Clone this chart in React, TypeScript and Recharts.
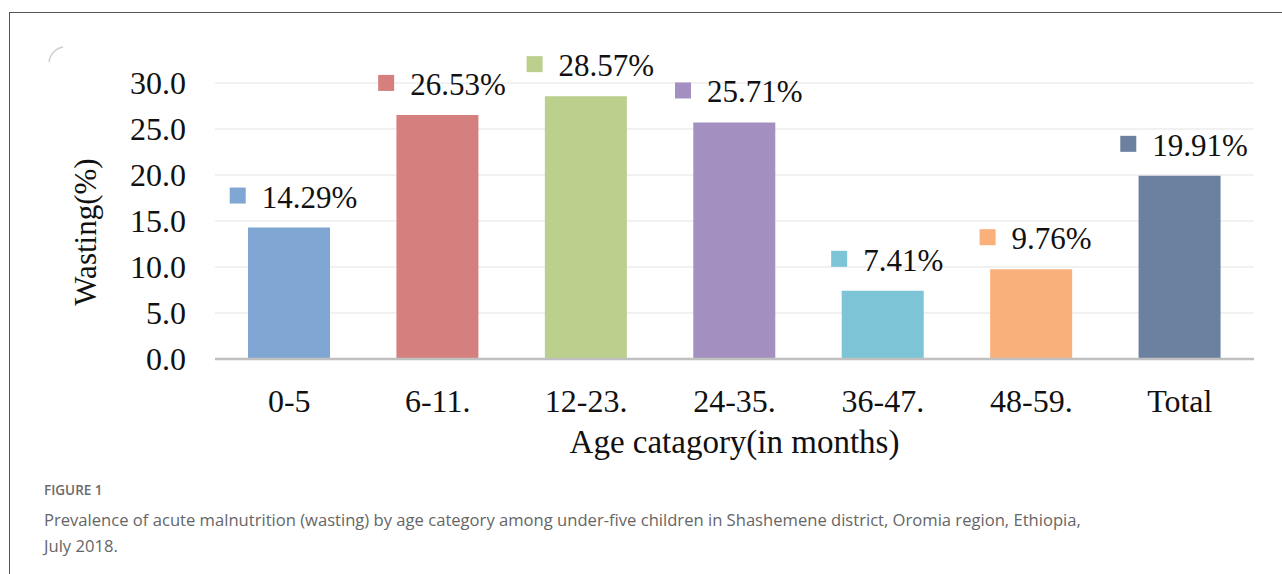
import React from "react";
import {
  BarChart,
  Bar,
  XAxis,
  YAxis,
  CartesianGrid,
  Cell,
  LabelList,
  Label,
} from "recharts";

const categories = ["0-5", "6-11.", "12-23.", "24-35.", "36-47.", "48-59.", "Total"];
const wasting = [14.29, 26.53, 28.57, 25.71, 7.41, 9.76, 19.91];
const barColors = ["#80a7d3", "#d57f7e", "#bad08c", "#a48fc1", "#7dc4d6", "#f9b07b", "#6c819f"];
const yTicks = [0, 5, 10, 15, 20, 25, 30];

const data = categories.map((name, i) => ({ name, value: wasting[i] }));

const serif = "'Liberation Serif', 'Times New Roman', serif";
const sans = "'Open Sans', 'Noto Sans', sans-serif";

// rough Times glyph widths, used to centre the square + text group
const textWidth = (s: string, size: number) =>
  s.split("").reduce((w, c) => w + (c === "." ? 0.25 : c === "%" ? 0.833 : 0.5), 0) * size;

const ValueLabel = (props: any) => {
  const { x, y, width, value, index } = props;
  const i = index ?? wasting.indexOf(value);
  const txt = `${Number(value).toFixed(2)}%`;
  const fs = 31;
  const total = 16 + 16 + textWidth(txt, fs);
  const cx = x + width / 2 + 4.5;
  const left = cx - total / 2;
  return (
    <g>
      <rect x={left} y={y - 40} width={16} height={16} fill={barColors[i]} />
      <text x={left + 32} y={y - 20} fontSize={fs} fontFamily={serif} fill="#111">
        {txt}
      </text>
    </g>
  );
};

const YTitle = (props: any) => {
  const vb = props.viewBox;
  const x = vb.x + 11;
  const y = vb.y + vb.height / 2 + 11;
  return (
    <text
      x={x}
      y={y}
      transform={`rotate(-90, ${x}, ${y})`}
      textAnchor="middle"
      fontSize={31}
      fontFamily={serif}
      fill="#111"
    >
      Wasting(%)
    </text>
  );
};

export default function App() {
  return (
    <div
      style={{
        position: "absolute",
        left: 0,
        top: 0,
        width: 1282,
        height: 574,
        background: "#fff",
        overflow: "hidden",
      }}
    >
      <div
        style={{
          position: "absolute",
          left: 9,
          top: 12,
          width: 1300,
          height: 600,
          borderTop: "1.5px solid #555",
          borderLeft: "1.5px solid #555",
        }}
      />
      <svg style={{ position: "absolute", left: 0, top: 0 }} width={80} height={80}>
        <path d="M49 62 A 17 17 0 0 1 63 47" stroke="#cfcfcf" strokeWidth={1.5} fill="none" />
      </svg>

      <div style={{ position: "absolute", left: 0, top: 0 }}>
        <BarChart
          width={1282}
          height={480}
          data={data}
          margin={{ top: 83, right: 28, bottom: 11, left: 85 }}
        >
          <CartesianGrid vertical={false} stroke="#ececec" strokeWidth={1.5} />
          <XAxis
            dataKey="name"
            height={110}
            tickLine={false}
            tickSize={6}
            tickMargin={24}
            axisLine={{ stroke: "#c0c0c0", strokeWidth: 2.5 }}
            tick={{ fontSize: 32, fontFamily: serif, fill: "#111" }}
            interval={0}
          >
            <Label
              value="Age catagory(in months)"
              position="insideBottom"
              offset={16}
              fontSize={33}
              fontFamily={serif}
              fill="#111"
            />
          </XAxis>
          <YAxis
            width={130}
            domain={[0, 30]}
            ticks={yTicks}
            tickFormatter={(v: number) => v.toFixed(1)}
            axisLine={false}
            tickLine={false}
            tickSize={6}
            tickMargin={23}
            tick={{ fontSize: 32, fontFamily: serif, fill: "#111" }}
          >
            <Label content={<YTitle />} />
          </YAxis>
          <Bar dataKey="value" barSize={82} isAnimationActive={false}>
            {data.map((d, i) => (
              <Cell key={d.name} fill={barColors[i]} />
            ))}
            <LabelList dataKey="value" content={<ValueLabel />} />
          </Bar>
        </BarChart>
      </div>

      <div
        style={{
          position: "absolute",
          left: 44,
          top: 481,
          fontFamily: sans,
          fontSize: 13.5,
          fontWeight: 600,
          color: "#6b6b6b",
        }}
      >
        FIGURE 1
      </div>
      <div
        style={{
          position: "absolute",
          left: 44,
          top: 507,
          width: 1200,
          fontFamily: sans,
          fontSize: 16.6,
          lineHeight: "26px",
          color: "#666",
        }}
      >
        Prevalence of acute malnutrition (wasting) by age category among under-five children in
        Shashemene district, Oromia region, Ethiopia,
        <br />
        July 2018.
      </div>
    </div>
  );
}
